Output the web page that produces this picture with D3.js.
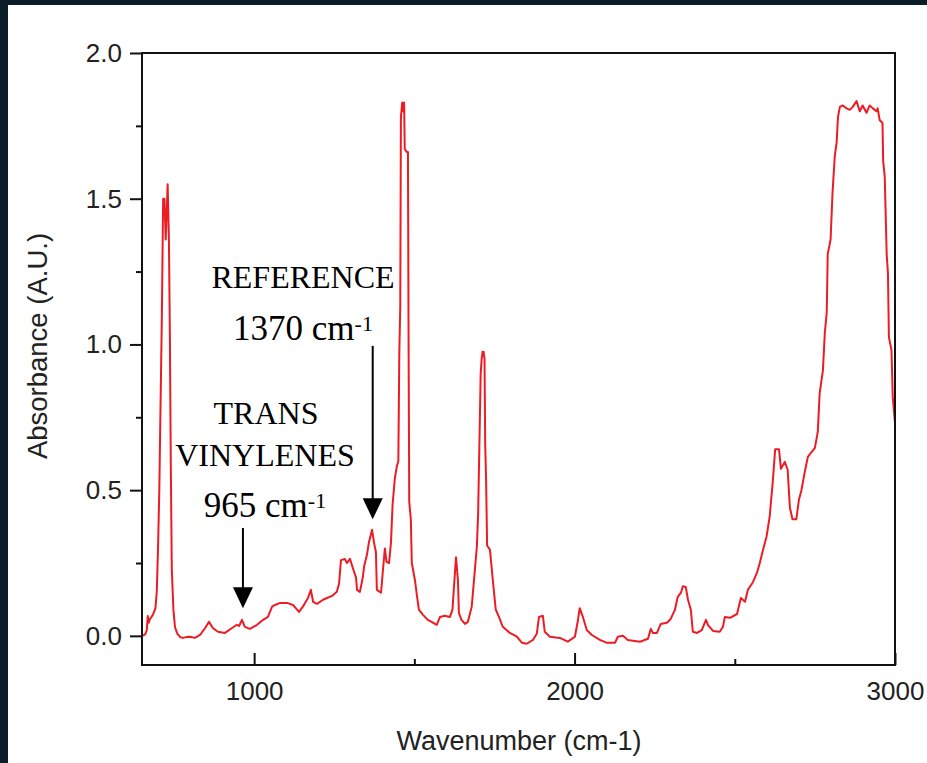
<!DOCTYPE html>
<html>
<head>
<meta charset="utf-8">
<script src="https://cdn.jsdelivr.net/npm/d3@7"></script>
<style>
  html, body { margin: 0; padding: 0; background: #0b1d29; }
  svg { display: block; }
</style>
</head>
<body>
<svg id="chart" width="927" height="763"></svg>
<script>
// ---- data ----
const wavenumber = [
  650,660,665,668,671,675,684,692,696,700,704,708,712,716,720,724,727,730,734,737,740,743,748,753,760,770,778,790,800,815,
  831,847,859,871,887,909,931,946,953,962,971,987,1009,1028,1043,1056,1065,1081,1103,1121,1140,1152,1168,1177,1184,1196,1215,1243,1258,1265,
  1271,1283,1290,1299,1308,1318,1321,1330,1339,1343,1352,1358,1368,1374,1380,1383,1396,1402,1408,1413,1421,1427,1432,1439,1445,1450,1453,1456,1458,1462,
  1465,1468,1470,1477,1480,1482,1484,1489,1492,1502,1507,1514,1527,1542,1558,1570,1580,1595,1611,1619,1623,1630,1636,1639,1647,1658,1667,1679,1686,1695,
  1699,1703,1707,1710,1713,1716,1719,1721,1724,1727,1736,1745,1754,1764,1776,1798,1820,1836,1851,1870,1882,1889,1901,1907,1923,1954,1979,2001,2010,2016,
  2026,2038,2054,2079,2101,2126,2135,2151,2166,2204,2229,2238,2244,2257,2269,2288,2300,2313,2322,2332,2338,2347,2354,2363,2369,2382,2397,2410,2416,2432,
  2453,2463,2469,2485,2507,2519,2532,2541,2557,2569,2578,2588,2599,2609,2619,2626,2638,2644,2656,2665,2672,2680,2692,2700,2708,2718,2728,2739,2750,2759,
  2765,2775,2781,2787,2790,2799,2805,2812,2818,2822,2828,2837,2849,2859,2868,2880,2890,2899,2911,2921,2931,2942,2946,2952,2961,2963,2968,2974,2978,2981,
  2989,2993,3000
];
const absorbance = [
  0.00,0.005,0.02,0.068,0.045,0.058,0.072,0.095,0.15,0.30,0.50,0.80,1.10,1.50,1.50,1.36,1.45,1.55,1.36,1.03,0.57,0.23,0.09,0.03,0.008,-0.005,-0.007,-0.004,-0.003,-0.007,
  0.003,0.027,0.048,0.027,0.014,0.01,0.027,0.038,0.034,0.055,0.031,0.024,0.038,0.055,0.065,0.10,0.106,0.113,0.113,0.106,0.082,0.10,0.13,0.158,0.117,0.11,0.124,0.137,0.151,0.18,
  0.26,0.264,0.25,0.264,0.233,0.20,0.158,0.151,0.20,0.237,0.278,0.32,0.364,0.32,0.288,0.158,0.148,0.226,0.30,0.254,0.25,0.32,0.45,0.54,0.58,0.60,0.97,1.13,1.78,1.83,
  1.80,1.83,1.67,1.66,1.66,1.00,0.46,0.40,0.25,0.19,0.147,0.09,0.072,0.055,0.045,0.038,0.065,0.069,0.065,0.09,0.158,0.27,0.19,0.079,0.055,0.041,0.048,0.10,0.19,0.305,
  0.42,0.66,0.90,0.95,0.975,0.975,0.95,0.66,0.53,0.31,0.295,0.19,0.09,0.065,0.031,0.01,-0.003,-0.024,-0.027,-0.014,0.007,0.065,0.069,0.014,-0.003,-0.007,-0.02,-0.003,0.05,0.095,
  0.065,0.02,0.003,-0.014,-0.024,-0.024,-0.003,0.0,-0.014,-0.02,-0.01,0.024,0.01,0.01,0.041,0.045,0.058,0.089,0.134,0.148,0.17,0.168,0.124,0.089,0.014,0.01,0.02,0.055,0.038,0.017,
  0.014,0.031,0.065,0.062,0.075,0.13,0.117,0.158,0.185,0.216,0.25,0.295,0.34,0.41,0.535,0.64,0.64,0.573,0.597,0.57,0.44,0.40,0.40,0.466,0.50,0.56,0.614,0.63,0.645,0.70,
  0.834,0.91,1.04,1.11,1.31,1.36,1.52,1.645,1.695,1.78,1.815,1.82,1.81,1.805,1.815,1.835,1.80,1.82,1.795,1.82,1.81,1.80,1.81,1.77,1.76,1.63,1.575,1.31,1.245,1.025,
  0.98,0.82,0.73
];
const xMajorTicks = [1000, 2000, 3000];
const xMinorTicks = [1500, 2500];
const yMajorTicks = [0.0, 0.5, 1.0, 1.5, 2.0];
const yMinorTicks = [0.25, 0.75, 1.25, 1.75];
const xTitle = "Wavenumber (cm-1)";
const yTitle = "Absorbance (A.U.)";
// annotation arrows: wavenumber, line-start absorbance, tip absorbance
const arrowX = [1370, 965];
const arrowTop = [0.995, 0.37];
const arrowTip = [0.40, 0.095];

// ---- layout ----
const svg = d3.select("#chart");
const W = 927, H = 763;
const L = 142, R = 895, T = 53, B = 665;

svg.append("rect").attr("x", 8).attr("y", 5).attr("width", W - 8).attr("height", H - 5).attr("fill", "#ffffff");

const x = d3.scaleLinear().domain([650, 3000]).range([L, R]);
const y = d3.scaleLinear().domain([-0.1, 2.0]).range([B, T]);

const sans = "'Liberation Sans', Arial, Helvetica, sans-serif";
const serif = "'Liberation Serif', 'Times New Roman', Times, serif";

// spectrum
const pts = wavenumber.map((w, i) => [w, absorbance[i]]);
svg.append("path")
  .datum(pts)
  .attr("fill", "none")
  .attr("stroke", "#ec1c24")
  .attr("stroke-width", 2)
  .attr("stroke-linejoin", "round")
  .attr("d", d3.line().x(d => x(d[0])).y(d => y(d[1])));

// axes
const yAxis = svg.append("g").attr("transform", `translate(${L},0)`)
  .call(d3.axisLeft(y).tickValues(yMajorTicks).tickFormat(d3.format(".1f")).tickSize(12).tickPadding(8));
const yAxisMinor = svg.append("g").attr("transform", `translate(${L},0)`)
  .call(d3.axisLeft(y).tickValues(yMinorTicks).tickFormat("").tickSize(6));
const xAxis = svg.append("g").attr("transform", `translate(0,${B})`)
  .call(d3.axisBottom(x).tickValues(xMajorTicks).tickFormat(d3.format("d")).tickSize(-12).tickPadding(17));
const xAxisMinor = svg.append("g").attr("transform", `translate(0,${B})`)
  .call(d3.axisBottom(x).tickValues(xMinorTicks).tickFormat("").tickSize(-6));

[yAxis, yAxisMinor, xAxis, xAxisMinor].forEach(g => {
  g.select(".domain").remove();
  g.selectAll("line").attr("stroke", "#111").attr("stroke-width", 2);
  g.selectAll("text").attr("fill", "#222").style("font-family", sans).style("font-size", "26px");
});

// frame
svg.append("rect").attr("x", L).attr("y", T).attr("width", R - L).attr("height", B - T)
  .attr("fill", "none").attr("stroke", "#111").attr("stroke-width", 2);

// titles
svg.append("text").attr("x", 519).attr("y", 750).attr("text-anchor", "middle")
  .style("font-family", sans).style("font-size", "27px").attr("fill", "#222").text(xTitle);
svg.append("text").attr("transform", `translate(47,346) rotate(-90)`).attr("text-anchor", "middle")
  .style("font-family", sans).style("font-size", "27.5px").attr("fill", "#222").text(yTitle);

// annotations
function label(txt, cx, by, size) {
  svg.append("text").attr("x", cx).attr("y", by).attr("text-anchor", "middle")
    .style("font-family", serif).style("font-size", size + "px").attr("fill", "#000").text(txt);
}
function wavLabel(num, cx, by) {
  const t = svg.append("text").attr("x", cx).attr("y", by).attr("text-anchor", "middle")
    .style("font-family", serif).style("font-size", "35px").attr("fill", "#000");
  t.append("tspan").text(num + " cm");
  t.append("tspan").attr("dy", -9).style("font-size", "22px").text("-1");
}
label("REFERENCE", 303, 288, 32);
wavLabel("1370", 303, 340);
label("TRANS", 266, 424, 32);
label("VINYLENES", 265, 466, 32);
wavLabel("965", 265, 517);

arrowX.forEach((w, i) => {
  const ax = x(w), yTip = y(arrowTip[i]), yTop = y(arrowTop[i]);
  const headH = 21, headW = 10;
  svg.append("line").attr("x1", ax).attr("x2", ax).attr("y1", yTop).attr("y2", yTip - headH + 2)
    .attr("stroke", "#000").attr("stroke-width", 2);
  svg.append("path")
    .attr("d", `M${ax - headW},${yTip - headH} L${ax + headW},${yTip - headH} L${ax},${yTip} Z`)
    .attr("fill", "#000");
});
</script>
</body>
</html>
